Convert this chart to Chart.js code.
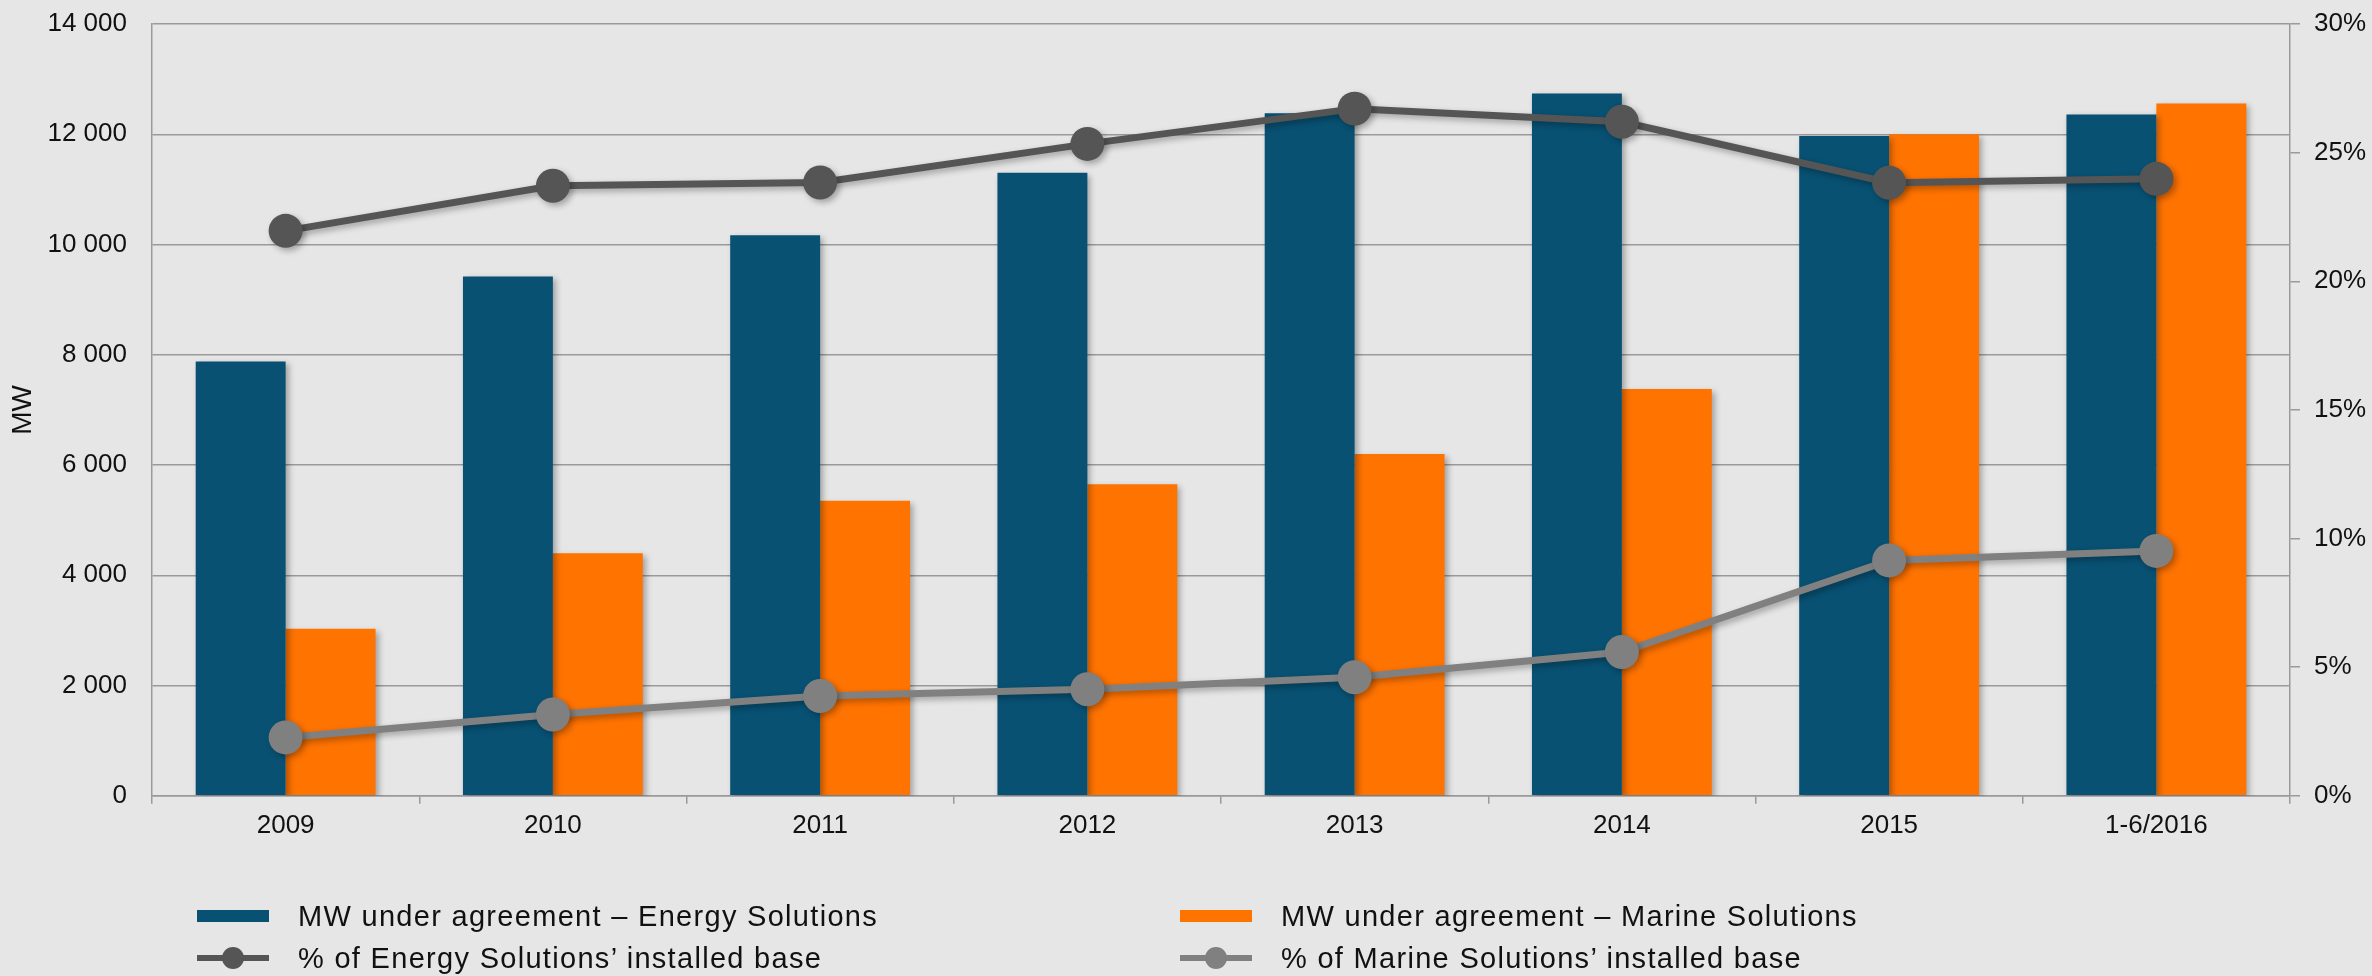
<!DOCTYPE html>
<html>
<head>
<meta charset="utf-8">
<script src="https://cdn.jsdelivr.net/npm/chart.js@4.4.0/dist/chart.umd.min.js"></script>
<style>
  html, body { margin: 0; padding: 0; background: #e6e6e6; }
  #wrap { position: relative; width: 2372px; height: 976px; }
  #legend { position: absolute; left: 0; top: 0; width: 100%; height: 100%; pointer-events: none;
            font-family: "Liberation Sans", Arial, sans-serif; }
  .item { position: absolute; display: flex; align-items: center; height: 40px; font-size: 29px;
          letter-spacing: 1.3px; color: #111; white-space: nowrap; }
  .sw { position: relative; width: 72px; height: 40px; margin-right: 29px; flex: none; }
  .sw .box { position: absolute; left: 0; top: 14px; width: 72px; height: 12px; }
  .sw .ln { position: absolute; left: 0; top: 17px; width: 72px; height: 6px; }
  .sw .dot { position: absolute; left: 25px; top: 9px; width: 22px; height: 22px; border-radius: 50%; }
</style>
</head>
<body>
<div id="wrap">
  <canvas id="mwChart" width="2372" height="976"></canvas>
  <div id="legend"></div>
</div>
<script>
// categories
const years = ['2009', '2010', '2011', '2012', '2013', '2014', '2015', '1-6/2016'];

// MW under agreement (left axis)
const energyMW = [7880, 9420, 10170, 11300, 12380, 12740, 11970, 12360];
const marineMW = [3030, 4400, 5350, 5650, 6200, 7380, 12000, 12560];

// share of installed base, % (right axis)
const energyPct = [21.96, 23.71, 23.84, 25.34, 26.71, 26.2, 23.83, 23.98];
const marinePct = [2.27, 3.16, 3.88, 4.14, 4.61, 5.59, 9.15, 9.52];

const labels = {
    energyMW: 'MW under agreement \u2013 Energy Solutions',
    marineMW: 'MW under agreement \u2013 Marine Solutions',
    energyPct: '% of Energy Solutions\u2019 installed base',
    marinePct: '% of Marine Solutions\u2019 installed base'
};

const FONT = '"Liberation Sans", Arial, sans-serif';
const gridGray = '#9a9a9a';

// soft drop shadow under bars and lines
const shadowPlugin = {
    id: 'shadow',
    beforeDatasetDraw(chart) {
        const ctx = chart.ctx;
        ctx.save();
        ctx.shadowColor = 'rgba(0, 0, 0, 0.3)';
        ctx.shadowBlur = 6;
        ctx.shadowOffsetX = 3;
        ctx.shadowOffsetY = 3;
    },
    afterDatasetDraw(chart) {
        chart.ctx.restore();
    }
};

function spaced(v) {
    return String(v).replace(/\B(?=(\d{3})+(?!\d))/g, ' ');
}

// fixed axis widths, and no extra top/bottom padding from the tick padding
function fixWidth(w) {
    return s => {
        s.width = w;
        s.paddingTop = 0;
        s.paddingBottom = 0;
    };
}

const ctx = document.getElementById('mwChart').getContext('2d');
const chart = new Chart(ctx, {
    type: 'bar',
    data: {
        labels: years,
        datasets: [{
            type: 'line',
            label: labels.energyPct,
            data: energyPct,
            yAxisID: 'y1',
            borderColor: '#555555',
            backgroundColor: '#555555',
            borderWidth: 7,
            pointRadius: 17,
            pointBorderWidth: 0,
            pointBackgroundColor: '#555555',
            tension: 0,
            order: 0
        }, {
            type: 'line',
            label: labels.marinePct,
            data: marinePct,
            yAxisID: 'y1',
            borderColor: '#808080',
            backgroundColor: '#808080',
            borderWidth: 7,
            pointRadius: 17,
            pointBorderWidth: 0,
            pointBackgroundColor: '#808080',
            tension: 0,
            order: 0
        }, {
            label: labels.energyMW,
            data: energyMW,
            yAxisID: 'y',
            backgroundColor: '#085173',
            categoryPercentage: 0.673,
            barPercentage: 1,
            order: 1
        }, {
            label: labels.marineMW,
            data: marineMW,
            yAxisID: 'y',
            backgroundColor: '#ff7300',
            categoryPercentage: 0.673,
            barPercentage: 1,
            order: 1
        }]
    },
    options: {
        responsive: false,
        animation: false,
        layout: { autoPadding: false, padding: { left: 6, right: 6, top: 24, bottom: 129 } },
        plugins: {
            legend: { display: false },
            tooltip: { enabled: false }
        },
        scales: {
            x: {
                grid: { drawOnChartArea: false, drawTicks: true, tickLength: 8, color: gridGray, lineWidth: 1.5, offset: true },
                border: { display: true, color: gridGray, width: 1.5 },
                ticks: { color: '#111', font: { family: FONT, size: 26 }, padding: 6, maxRotation: 0 }
            },
            y: {
                position: 'left',
                min: 0,
                max: 14000,
                afterFit: fixWidth(146),
                grid: { color: gridGray, lineWidth: 1.5, drawTicks: false },
                border: { display: true, color: gridGray, width: 1.5 },
                ticks: {
                    stepSize: 2000,
                    padding: 25,
                    color: '#111',
                    font: { family: FONT, size: 26 },
                    callback: v => spaced(v)
                },
                title: { display: true, text: 'MW', color: '#111', font: { family: FONT, size: 28 }, padding: { top: 0, bottom: 4 } }
            },
            y1: {
                position: 'right',
                min: 0,
                max: 30,
                afterFit: fixWidth(76),
                grid: { drawOnChartArea: false, drawTicks: true, tickLength: 10, color: gridGray, lineWidth: 1.5 },
                border: { display: true, color: gridGray, width: 1.5 },
                ticks: {
                    stepSize: 5,
                    padding: 14,
                    color: '#111',
                    font: { family: FONT, size: 26 },
                    callback: v => v + '%'
                }
            }
        }
    },
    plugins: [shadowPlugin]
});

// two-column legend under the chart, built from the datasets
function buildLegend() {
    const legend = document.getElementById('legend');
    const ds = chart.data.datasets;
    const slots = [
        { d: ds[2], left: 197, mid: 916 },
        { d: ds[3], left: 1180, mid: 916 },
        { d: ds[0], left: 197, mid: 958 },
        { d: ds[1], left: 1180, mid: 958 }
    ];
    slots.forEach(s => {
        const item = document.createElement('div');
        item.className = 'item';
        item.style.left = s.left + 'px';
        item.style.top = (s.mid - 20) + 'px';
        const sw = document.createElement('div');
        sw.className = 'sw';
        if (s.d.type === 'line') {
            sw.innerHTML = '<div class="ln" style="background:' + s.d.borderColor + '"></div>' +
                           '<div class="dot" style="background:' + s.d.borderColor + '"></div>';
        } else {
            sw.innerHTML = '<div class="box" style="background:' + s.d.backgroundColor + '"></div>';
        }
        const txt = document.createElement('span');
        txt.textContent = s.d.label;
        item.appendChild(sw);
        item.appendChild(txt);
        legend.appendChild(item);
    });
}
buildLegend();
</script>
</body>
</html>
